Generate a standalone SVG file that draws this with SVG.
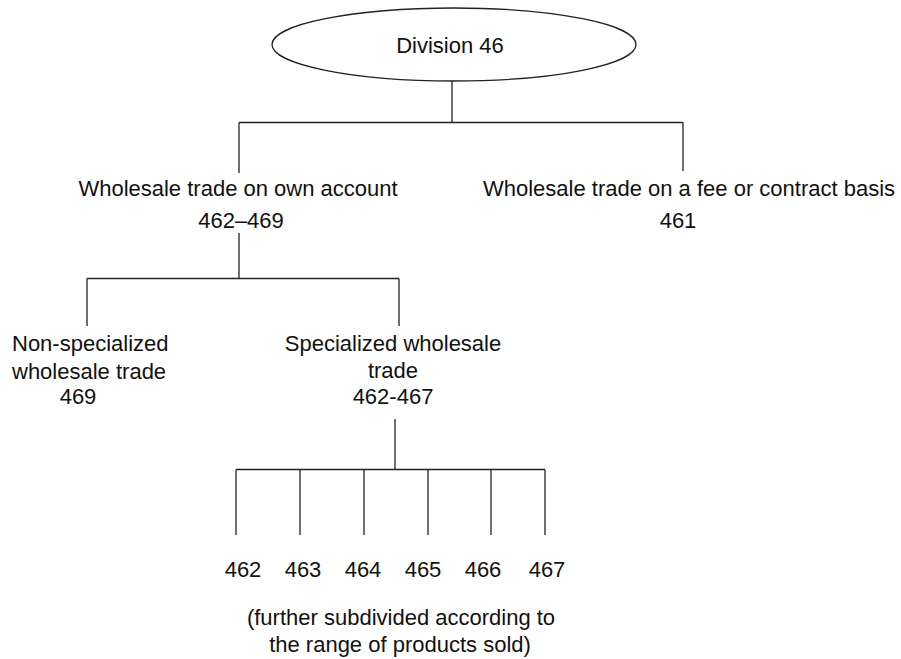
<svg xmlns="http://www.w3.org/2000/svg" width="901" height="659" viewBox="0 0 901 659">
<style>
text{font-family:"Liberation Sans",Arial,sans-serif;font-size:22px;fill:#111;}
.c{text-anchor:middle;}
.ln{stroke:#222;stroke-width:1.3;fill:none;}
</style>
<rect width="901" height="659" fill="#fff"/>
<g id="connectors" class="ln">
<path d="M452 81V122.5M239 122.5H683M239 122.5V173M683 122.5V171"/>
<path d="M239 233V278.5M87 278.5H399M87 278.5V326M399 278.5V326"/>
<path d="M395 419V469.5M236 469.5H545M236 469.5V535M300 469.5V535M364 469.5V535M428 469.5V535M491 469.5V535M545 469.5V535"/>
</g>
<g id="division46">
<ellipse cx="454" cy="44.5" rx="182" ry="36.5" fill="#fff" stroke="#222" stroke-width="1.3"/>
<text class="c" x="450" y="53">Division 46</text>
</g>
<g id="own-account">
<text class="c" x="238" y="196">Wholesale trade on own account</text>
<text class="c" x="241" y="228">462–469</text>
</g>
<g id="fee-contract">
<text class="c" x="689" y="196">Wholesale trade on a fee or contract basis</text>
<text class="c" x="678" y="228">461</text>
</g>
<g id="non-specialized">
<text x="12" y="351">Non-specialized</text>
<text x="12" y="379">wholesale trade</text>
<text class="c" x="78" y="404">469</text>
</g>
<g id="specialized">
<text class="c" x="393" y="351">Specialized wholesale</text>
<text class="c" x="393" y="378">trade</text>
<text class="c" x="393" y="404">462-467</text>
</g>
<g id="g462"><text class="c" x="243" y="577">462</text></g>
<g id="g463"><text class="c" x="303" y="577">463</text></g>
<g id="g464"><text class="c" x="363" y="577">464</text></g>
<g id="g465"><text class="c" x="423" y="577">465</text></g>
<g id="g466"><text class="c" x="483" y="577">466</text></g>
<g id="g467"><text class="c" x="547" y="577">467</text></g>
<g id="note">
<text class="c" x="401" y="625">(further subdivided according to</text>
<text class="c" x="400" y="652">the range of products sold)</text>
</g>
</svg>
